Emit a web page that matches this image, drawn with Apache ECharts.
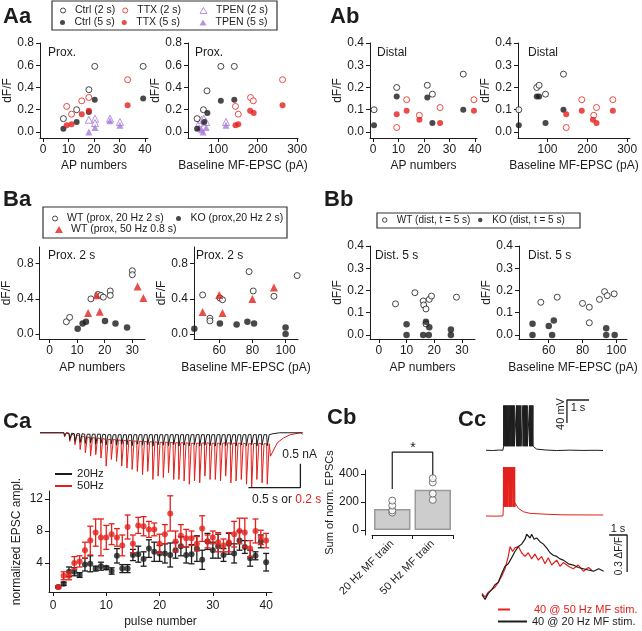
<!DOCTYPE html>
<html><head><meta charset="utf-8">
<script src="https://cdn.jsdelivr.net/npm/echarts@6/dist/echarts.min.js"></script>
<style>html,body{margin:0;padding:0;background:#fff}#c{width:642px;height:631px}</style>
</head><body><div id="c"></div>
<script>
// ---------------- DATA ----------------
// Aa (proximal) : [AP numbers, dF/F]
const aaL_ctrl2=[[8,0.12],[13.2,0.20],[18,0.38],[20.3,0.59],[39.3,0.59]];
const aaL_ctrl5=[[8,0.03],[13.2,0.09],[18,0.18],[20.3,0.29],[39.3,0.30]];
const aaL_ttx2=[[9.3,0.23],[11.2,0.16],[15.2,0.28],[18,0.31],[33.2,0.47]];
const aaL_ttx5=[[9.3,0.06],[11.2,0.07],[15.2,0.16],[18,0.19],[33.2,0.24]];
const aaL_tpen2=[[18,0.11],[20.4,0.12],[20.4,0.08],[26.3,0.12],[30.2,0.09]];
const aaL_tpen5=[[18,0.0],[20.4,0.04],[26.3,0.10],[30.2,0.06]];
// Aa : [Baseline MF-EPSC (pA), dF/F]
const aaR_ctrl2=[[47,0.12],[63,0.20],[72,0.37],[107,0.59],[141,0.59]];
const aaR_ctrl5=[[47,0.03],[65,0.09],[73,0.17],[107,0.28],[141,0.29]];
const aaR_ttx2=[[144,0.23],[151,0.16],[182,0.31],[189,0.28],[263,0.47]];
const aaR_ttx5=[[144,0.06],[151,0.07],[181,0.19],[190,0.17],[263,0.24]];
const aaR_tpen2=[[52,0.08],[58,0.11],[64,0.12],[70,0.09],[120,0.09]];
const aaR_tpen5=[[52,0.04],[58,0.02],[62,0.0],[70,0.04],[120,0.06]];
// Ab (distal)
const abL_ctrl2=[[0.4,0.10],[9.3,0.20],[21.3,0.21],[23.3,0.17],[35.4,0.26]];
const abL_ctrl5=[[0.4,0.03],[9.3,0.16],[21.3,0.155],[23.3,0.04],[35.4,0.10]];
const abL_ttx2=[[9.3,0.02],[13.2,0.145],[18.2,0.075],[26.3,0.11],[39.6,0.145]];
const abL_ttx5=[[9.3,0.08],[13.2,0.095],[18.2,0.055],[26.3,0.04],[39.6,0.095]];
const abR_ctrl2=[[28,0.10],[73,0.20],[79,0.21],[95,0.17],[140,0.26]];
const abR_ctrl5=[[28,0.03],[73,0.16],[79,0.16],[95,0.04],[140,0.10]];
const abR_ttx2=[[147,0.02],[186,0.145],[216,0.075],[223,0.11],[264,0.145]];
const abR_ttx5=[[147,0.08],[186,0.095],[214,0.055],[223,0.04],[264,0.095]];
// Ba (prox. 2 s)
const baL_wt20=[[6.1,0.14],[7.3,0.19],[15,0.40],[17.5,0.45],[18.6,0.44],[19.5,0.42],[22,0.49],[22,0.44],[30,0.72],[30,0.675]];
const baL_ko=[[10.2,0.06],[12,0.12],[13.2,0.14],[20.1,0.15],[23.9,0.12],[28.1,0.075]];
const baL_wt50=[[14,0.24],[17.1,0.44],[18.2,0.255],[31.9,0.54],[34,0.41]];
const baR_wt20=[[50,0.445],[54.4,0.18],[54.4,0.15],[60.4,0.41],[62,0.39],[78,0.71],[80.5,0.49],[93,0.43],[107,0.665]];
const baR_ko=[[45,0.06],[60.4,0.12],[70.5,0.11],[77,0.14],[81,0.12],[100,0.075],[100,0.0]];
const baR_wt50=[[50,0.25],[60,0.445],[62,0.24],[80,0.40],[93,0.53]];
// Bb (dist. 5 s)
const bbL_wt=[[6,0.14],[13,0.19],[16,0.153],[16.2,0.135],[17,0.117],[17,0.05],[18.2,0.16],[19,0.175],[28,0.17]];
const bbL_ko=[[10,0.048],[10,0],[16,0],[17,0.06],[18.2,0.035],[18,0],[26,0.025],[26,0]];
const bbR_wt=[[55.3,0.147],[65,0.17],[80,0.142],[84,0.125],[84,0.055],[90,0.16],[93,0.195],[94.6,0.177],[98.7,0.185]];
const bbR_ko=[[50.4,0.05],[50.4,0],[60,0.04],[62,0],[63,0.065],[94,0.03],[94,0],[99,0]];
// Ca normalized EPSC amplitude (pulse 1..40)
const caRed=[1.0,2.4,2.4,4.0,4.2,5.6,6.8,7.8,7.2,7.2,7.6,7.2,6.2,8.5,6.4,8.7,8.6,8.2,8.2,6.4,7.6,10.2,6.7,7.4,7.1,7.1,6.4,8.3,6.7,7.2,6.6,6.2,6.6,7.6,8.0,7.8,5.8,8.0,7.2,6.8];
const caRedSem=[0.15,0.5,0.5,0.8,0.7,1.0,1.8,1.7,2.3,1.5,1.3,1.1,1.3,1.5,1.1,1.0,1.2,1.0,0.8,1.2,1.2,2.2,1.3,1.4,1.1,0.9,0.9,1.6,0.8,0.8,1.2,0.8,1.2,1.6,1.6,1.8,1.0,1.5,0.9,0.9];
const caBlack=[1.0,1.4,2.9,2.9,2.5,3.8,3.9,3.3,3.6,3.4,3.0,4.9,3.3,3.3,5.0,5.1,4.5,5.8,5.4,5.2,5.2,5.0,5.6,6.1,5.0,5.1,5.8,4.4,6.7,5.6,6.1,5.0,6.4,5.2,6.8,6.0,4.6,4.9,6.7,4.1];
const caBlackSem=[0.1,0.2,0.6,0.5,0.3,0.8,1.0,0.3,0.5,0.2,0.4,0.9,0.5,0.5,0.7,1.0,0.9,1.1,1.2,1.0,1.2,1.5,1.0,1.2,1.0,1.2,1.6,1.2,1.0,1.0,1.5,0.8,1.3,1.2,1.2,0.8,1.0,0.5,0.8,1.1];
// Ca EPSC traces (nA): peak and inter-pulse level for each of 40 pulses
const trainStart=100, pulseStep=20; // ms (aligned time base)
const redPeak=[-0.09,-0.18,-0.25,-0.35,-0.42,-0.49,-0.46,-0.53,-0.70,-0.56,-0.60,-0.70,-0.74,-0.77,-0.81,-0.88,-0.81,-0.98,-0.91,-0.94,-0.84,-0.98,-0.98,-1.01,-1.08,-1.01,-1.05,-0.91,-0.98,-0.98,-1.01,-0.91,-1.05,-1.01,-0.98,-1.08,-1.15,-0.98,-1.05,-1.08];
const redInter=[0,-0.03,-0.05,-0.07,-0.09,-0.10,-0.11,-0.12,-0.14,-0.14,-0.15,-0.16,-0.16,-0.17,-0.18,-0.18,-0.19,-0.19,-0.20,-0.20,-0.20,-0.21,-0.21,-0.21,-0.22,-0.22,-0.22,-0.21,-0.22,-0.22,-0.22,-0.21,-0.22,-0.22,-0.22,-0.23,-0.23,-0.22,-0.23,-0.23];
const blackPeak=[-0.06,-0.14,-0.18,-0.20,-0.22,-0.21,-0.24,-0.22,-0.25,-0.23,-0.26,-0.24,-0.25,-0.27,-0.24,-0.26,-0.25,-0.28,-0.25,-0.26,-0.27,-0.25,-0.28,-0.26,-0.27,-0.25,-0.28,-0.26,-0.27,-0.28,-0.26,-0.27,-0.25,-0.28,-0.26,-0.27,-0.25,-0.28,-0.26,-0.27];
const blackInter=[0,-0.01,-0.02,-0.02,-0.03,-0.03,-0.03,-0.03,-0.04,-0.04,-0.04,-0.04,-0.04,-0.04,-0.04,-0.04,-0.04,-0.04,-0.04,-0.04,-0.04,-0.04,-0.04,-0.04,-0.04,-0.04,-0.04,-0.04,-0.04,-0.04,-0.04,-0.04,-0.04,-0.04,-0.04,-0.04,-0.04,-0.04,-0.04,-0.04];
const redTail=[[895,-0.49],[921,-0.21],[945,-0.11],[971,-0.04],[1010,0],[1019,-0.03]];
const blackTail=[[895,-0.08],[905,-0.02],[930,0],[1019,0]];
// Cb
const cbCats=['20 Hz MF train','50 Hz MF train'];
const cbMeans=[150,288];
const cbPts20=[125,140,175,210];
const cbPts50=[215,260,340,370];
// Cc membrane potential (mV) vs time (s)
const blackSpikes=[0.80,0.84,0.88,0.92,0.96,1.00,1.04,1.08,1.12,1.16,1.20,1.24,1.28,1.38,1.42,1.46,1.50,1.54,1.58,1.67,1.71,1.75,1.79,1.83,1.87,1.97,2.01,2.05,2.09,2.13];
const blackSpikeTop=13, blackBurstTrough=-58;
const blackVmPre=[[0,-65],[0.3,-65.5],[0.6,-64.6],[0.77,-65]];
const blackVmPost=[[2.16,-60],[2.3,-63],[2.7,-64.5],[3.2,-65.5],[3.8,-64.8],[4.4,-65.3],[5.0,-65],[5.32,-65.4]];
const redSpikes=[0.79,0.82,0.85,0.88,0.91,0.94,0.97,1.03,1.06,1.09,1.12,1.15,1.21,1.24,1.27,1.30];
const redSpikeTop=20, redBurstTrough=-49;
const redVmPre=[[0,-65],[0.4,-65.3],[0.77,-65]];
const redVmPost=[[1.33,-43],[1.47,-51.7],[1.70,-57.6],[2.0,-60.4],[2.76,-62],[3.5,-63],[5.33,-63.3]];
// Cc ΔF/F vs time (s)
const redDF=[[0,0.03],[0.17,0.0],[0.35,0.04],[0.54,0.06],[0.72,0.08],[0.91,0.12],[1.09,0.17],[1.28,0.23],[1.46,0.33],[1.56,0.41],[1.70,0.37],[1.83,0.40],[2.02,0.41],[2.20,0.36],[2.39,0.33],[2.57,0.36],[2.76,0.31],[2.94,0.35],[3.13,0.30],[3.31,0.33],[3.50,0.27],[3.68,0.32],[3.87,0.26],[4.15,0.30],[4.33,0.25],[4.52,0.28],[4.80,0.25],[5.07,0.23],[5.35,0.26],[5.63,0.21],[5.91,0.24],[6.09,0.22]];
const blackDF=[[0,0.02],[0.17,-0.02],[0.35,0.03],[0.54,0.06],[0.72,0.10],[0.91,0.12],[1.09,0.19],[1.28,0.25],[1.46,0.27],[1.65,0.32],[1.83,0.37],[2.02,0.41],[2.20,0.43],[2.39,0.47],[2.48,0.51],[2.57,0.52],[2.67,0.48],[2.76,0.51],[2.89,0.47],[3.04,0.48],[3.22,0.45],[3.41,0.43],[3.59,0.40],[3.78,0.36],[3.96,0.34],[4.15,0.33],[4.33,0.31],[4.52,0.30],[4.80,0.27],[5.07,0.26],[5.35,0.24],[5.63,0.23],[5.91,0.22],[6.20,0.21],[6.48,0.23],[6.76,0.21]];
// tick labels
const ticksAP=[0,10,20,30,40], ticksEPSC=[100,200,300], ticksA_prox=[0,0.2,0.4,0.6,0.8], ticksA_dist=[0,0.1,0.2,0.3,0.4];
const ticksB_AP=[0,10,20,30], ticksB_EPSC=[60,80,100], ticksB_prox=[0,0.4,0.8], ticksB_dist=[0,0.1,0.2,0.3,0.4];
const ticksCaX=[0,10,20,30,40], ticksCaY=[4,8,12], ticksCbY=[0,200,400];

// ---------------- STYLE / BUILD ----------------
const FONT='"Liberation Sans", Arial, Helvetica, sans-serif';
const INK='#1c1c1c', RED='#e3201b', PURPLE='#a67bd6', GREY='#555';
const fix1=v=>Number(v).toFixed(1);
const grids=[], xA=[], yA=[], series=[], legends=[], els=[];
function grid(l,t,w,h){grids.push({left:l,top:t,width:w,height:h,containLabel:false});return grids.length-1;}
function axis(gi,min,max,ticks,fmt,name,gap,extra){
  return Object.assign({type:'value',gridIndex:gi,min:min,max:max,
    axisLine:{show:true,onZero:false,lineStyle:{color:INK,width:1}},
    axisTick:{show:true,length:4,customValues:ticks,lineStyle:{color:INK,width:1}},
    axisLabel:{show:true,customValues:ticks,formatter:fmt||(v=>String(v)),fontSize:12,color:INK,fontFamily:FONT,margin:6},
    splitLine:{show:false},name:name||'',nameLocation:'middle',nameGap:gap||20,
    nameTextStyle:{fontSize:12,color:INK,fontFamily:FONT}},extra||{});
}
function hid(gi,min,max){return {type:'value',gridIndex:gi,min:min,max:max,show:false,splitLine:{show:false}};}
function sc(name,gi,data,symbol,size,color,open,z){
  series.push({type:'scatter',name:name,xAxisIndex:gi,yAxisIndex:gi,data:data,symbol:symbol,symbolSize:size,symbolKeepAspect:true,silent:true,z:z||2,
    itemStyle:open?{color:'#fff',borderColor:color,borderWidth:1}:{color:color,borderWidth:0}});
}
function ln(name,gi,data,color,w,z){
  series.push({type:'line',name:name,xAxisIndex:gi,yAxisIndex:gi,data:data,showSymbol:false,symbol:'none',silent:true,z:z||2,
    color:color,lineStyle:{color:color,width:w||1},animation:false});
}
function txt(t,x,y,o){els.push({type:'text',x:x,y:y,rotation:(o&&o.rot)||0,silent:true,
  style:Object.assign({text:t,font:(o&&o.font)||('12px '+FONT),fill:(o&&o.fill)||INK,align:(o&&o.align)||'left',verticalAlign:(o&&o.va)||'middle'},(o&&o.style)||{})});}
function box(x,y,w,h){els.push({type:'rect',shape:{x:x,y:y,width:w,height:h},silent:true,style:{fill:'none',stroke:'#333',lineWidth:1.2}});}
function leg(names,left,top,o){legends.push(Object.assign({data:names,left:left,top:top,orient:'horizontal',itemWidth:14,itemHeight:5,itemGap:7,padding:0,selectedMode:false,
  symbolKeepAspect:true,itemStyle:{borderWidth:1},textStyle:{fontSize:10.5,color:INK,fontFamily:FONT}},o||{}));}

// ---- A panels
const g0=grid(40,43,108,95), g1=grid(188,43,110,95), g2=grid(370,43,107,95), g3=grid(518,43,112,95);
xA.push(axis(g0,-1.18,41.2,ticksAP,null,'AP numbers',22));
yA.push(axis(g0,-0.054,0.8,ticksA_prox,fix1,'dF/F',26));
xA.push(axis(g1,24,302,ticksEPSC,null,'Baseline MF-EPSC (pA)',22));
yA.push(axis(g1,-0.054,0.8,ticksA_prox,fix1,'dF/F',26));
xA.push(axis(g2,-1.18,40.8,ticksAP,null,'AP numbers',22));
yA.push(axis(g2,-0.027,0.4,ticksA_dist,fix1,'dF/F',26));
xA.push(axis(g3,26,307,ticksEPSC,null,'Baseline MF-EPSC (pA)',22));
yA.push(axis(g3,-0.027,0.4,ticksA_dist,fix1,'dF/F',26));
[[g0,aaL_ctrl2,aaL_ctrl5,aaL_ttx2,aaL_ttx5,aaL_tpen2,aaL_tpen5],[g1,aaR_ctrl2,aaR_ctrl5,aaR_ttx2,aaR_ttx5,aaR_tpen2,aaR_tpen5],
 [g2,abL_ctrl2,abL_ctrl5,abL_ttx2,abL_ttx5,null,null],[g3,abR_ctrl2,abR_ctrl5,abR_ttx2,abR_ttx5,null,null]].forEach(p=>{
  const g=p[0];
  if(p[5]){sc('TPEN (2 s)',g,p[5],'triangle',7,PURPLE,true);sc('TPEN (5 s)',g,p[6],'triangle',7,PURPLE,false);}
  sc('Ctrl (2 s)',g,p[1],'circle',6,INK,true);sc('Ctrl (5 s)',g,p[2],'circle',6,INK,false);
  sc('TTX (2 s)',g,p[3],'circle',6,RED,true);sc('TTX (5 s)',g,p[4],'circle',6,RED,false);
});
// ---- B panels
const g4=grid(38,247,107,92), g5=grid(194,247,104,92), g6=grid(370,246,105,93), g7=grid(519,246,108,93);
xA.push(axis(g4,-3.6,34.6,ticksB_AP,null,'AP numbers',23));
yA.push(axis(g4,-0.056,0.99,ticksB_prox,fix1,'dF/F',26));
xA.push(axis(g5,44.8,107.5,ticksB_EPSC,null,'Baseline MF-EPSC (pA)',23));
yA.push(axis(g5,-0.056,0.99,ticksB_prox,fix1,'dF/F',26));
xA.push(axis(g6,-3.2,34.7,ticksB_AP,null,'AP numbers',23));
yA.push(axis(g6,-0.018,0.4,ticksB_dist,fix1,'dF/F',26));
xA.push(axis(g7,42.4,106.3,ticksB_EPSC,null,'Baseline MF-EPSC (pA)',23));
yA.push(axis(g7,-0.018,0.4,ticksB_dist,fix1,'dF/F',26));
sc('WT (prox, 20 Hz 2 s)',g4,baL_wt20,'circle',6,INK,true);sc('KO (prox,20 Hz 2 s)',g4,baL_ko,'circle',6.5,INK,false);sc('WT (prox, 50 Hz 0.8 s)',g4,baL_wt50,'triangle',8,RED,false);
sc('WT (prox, 20 Hz 2 s)',g5,baR_wt20,'circle',6,INK,true);sc('KO (prox,20 Hz 2 s)',g5,baR_ko,'circle',6.5,INK,false);sc('WT (prox, 50 Hz 0.8 s)',g5,baR_wt50,'triangle',8,RED,false);
sc('WT (dist, t = 5 s)',g6,bbL_wt,'circle',6,INK,true);sc('KO (dist, t = 5 s)',g6,bbL_ko,'circle',6.5,INK,false);
sc('WT (dist, t = 5 s)',g7,bbR_wt,'circle',6,INK,true);sc('KO (dist, t = 5 s)',g7,bbR_ko,'circle',6.5,INK,false);

// ---- Ca trace
const g8=grid(40,428,263,62);
xA.push(hid(g8,8,1020)); yA.push(hid(g8,-1.2,0.1));
function eTrace(inter,peak,tail){const d=[[8,0],[trainStart,0]];inter.forEach((v,k)=>{const t=trainStart+k*pulseStep;d.push([t,v],[t+2.5,peak[k]],[t+10,v]);});return d.concat(tail);}
ln('50Hz',g8,eTrace(redInter,redPeak,redTail),RED,1,2);
ln('20Hz',g8,eTrace(blackInter,blackPeak,blackTail),INK,1,3);
ln('scaleCa',g8,[[1010,-0.65],[1010,-1.15],[810,-1.15]],INK,1.3,3);
// ---- Ca plot
const g9=grid(49,491,223,101);
xA.push(axis(g9,-0.75,41.1,ticksCaX,null,'pulse number',24,{axisLabel:{customValues:ticksCaX,fontSize:12,color:INK,fontFamily:FONT,margin:8}}));
yA.push(axis(g9,0.375,13,ticksCaY,null,'normalized EPSC ampl.',26));
const pulses=caRed.map((_,i)=>i+1);
function errbars(name,gi,mean,sem,color,z){
  series.push({type:'custom',name:name,xAxisIndex:gi,yAxisIndex:gi,silent:true,z:z,
    data:mean.map((m,i)=>[pulses[i],m-sem[i],m+sem[i]]),
    renderItem:function(params,api){const x=api.value(0);const a=api.coord([x,api.value(1)]),b=api.coord([x,api.value(2)]);const w=3;const st={stroke:color,lineWidth:1.3};
      return {type:'group',children:[{type:'line',shape:{x1:a[0],y1:a[1],x2:b[0],y2:b[1]},style:st},{type:'line',shape:{x1:a[0]-w,y1:a[1],x2:a[0]+w,y2:a[1]},style:st},{type:'line',shape:{x1:b[0]-w,y1:b[1],x2:b[0]+w,y2:b[1]},style:st}]};}});
}
errbars('semB',g9,caBlack,caBlackSem,INK,2);
sc('meanB',g9,caBlack.map((v,i)=>[pulses[i],v]),'circle',6,INK,false,3);
errbars('semR',g9,caRed,caRedSem,RED,4);
sc('meanR',g9,caRed.map((v,i)=>[pulses[i],v]),'circle',6,RED,false,5);

// ---- Cb
const g10=grid(372,470,81,65);
xA.push({type:'category',gridIndex:g10,data:cbCats,axisLine:{show:true,onZero:false,lineStyle:{color:INK}},axisTick:{show:true,length:4,alignWithLabel:false,lineStyle:{color:INK}},
  axisLabel:{rotate:45,interval:0,fontSize:11,color:INK,fontFamily:FONT,margin:7},splitLine:{show:false}});
yA.push(axis(g10,-35.7,428.6,ticksCbY,null,'Sum of norm. EPSCs',22,{offset:7,nameTextStyle:{fontSize:11,color:INK,fontFamily:FONT}}));
series.push({type:'bar',name:'cbBars',xAxisIndex:g10,yAxisIndex:g10,data:cbMeans,barWidth:'90%',silent:true,itemStyle:{color:'#cdcdcd',borderColor:'#9a9a9a',borderWidth:1.5}});
sc('cb20',g10,cbPts20.map(v=>[0,v]),'circle',7,GREY,true,4);
sc('cb50',g10,cbPts50.map(v=>[1,v]),'circle',7,GREY,true,4);
const g11=grid(372,440,81,95);
xA.push({type:'category',gridIndex:g11,data:cbCats,show:false});yA.push(hid(g11,-35.7,642.9));
ln('bracket',g11,[[0,293],[0,557],[1,557],[1,371]],INK,1.2,3);

// ---- Cc
const g12=grid(486,398,140,58), g13=grid(486,462,140,58), g14=grid(482,528,148,72);
xA.push(hid(g12,0,6.364)); yA.push(hid(g12,-75,26));
xA.push(hid(g13,0,6.364)); yA.push(hid(g13,-72,29));
xA.push(hid(g14,0,8.22)); yA.push(hid(g14,-0.024,0.561));
function vmTrace(pre,spikes,trough,peak,post){const d=pre.slice();spikes.forEach(s=>{d.push([s,trough],[s+0.004,peak],[s+0.014,trough]);});return d.concat(post);}
ln('vmBlack',g12,vmTrace(blackVmPre,blackSpikes,blackBurstTrough,blackSpikeTop,blackVmPost),INK,1);
ln('scaleVm',g12,[[4.68,22.5],[3.68,22.5],[3.68,-17.5]],INK,1.3);
ln('vmRed',g13,vmTrace(redVmPre,redSpikes,redBurstTrough,redSpikeTop,redVmPost),RED,1);
ln('40 @ 50 Hz MF stim.',g14,redDF,RED,1.2,2);
ln('40 @ 20 Hz MF stim.',g14,blackDF,INK,1.2,3);
ln('scaleDF',g14,[[7.06,0.504],[8.06,0.504],[8.06,0.204]],INK,1.3);

// ---- legends
leg(['Ctrl (2 s)','TTX (2 s)'],60,5);
leg(['TPEN (2 s)'],199.5,5,{itemWidth:7,itemHeight:6,textStyle:{fontSize:10.5,color:INK,fontFamily:FONT,padding:[0,0,0,4]}});
leg(['Ctrl (5 s)','TTX (5 s)'],60,17);
leg(['TPEN (5 s)'],199.5,17,{itemWidth:7,itemHeight:6,textStyle:{fontSize:10.5,color:INK,fontFamily:FONT,padding:[0,0,0,4]}});
box(52,1,225,29);
leg(['WT (prox, 20 Hz 2 s)'],52,213);
leg(['KO (prox,20 Hz 2 s)'],176,213);
leg(['WT (prox, 50 Hz 0.8 s)'],55,224,{itemWidth:8,itemHeight:7,textStyle:{fontSize:10.5,color:INK,fontFamily:FONT,padding:[0,0,0,3]}});
box(43,207,244,31);
leg(['WT (dist, t = 5 s)'],382,215,{itemHeight:4.5,textStyle:{fontSize:10,color:INK,fontFamily:FONT}});
leg(['KO (dist, t = 5 s)'],478,215,{itemHeight:4.5,textStyle:{fontSize:10,color:INK,fontFamily:FONT}});
box(377,213,203,15);
leg(['20Hz','50Hz'],55,468,{orient:'vertical',itemWidth:17,itemHeight:2,itemGap:0,icon:'rect',textStyle:{fontSize:11.5,color:INK,fontFamily:FONT}});
leg(['40 @ 50 Hz MF stim.'],498,604,{itemWidth:12,itemHeight:2,icon:'rect',textStyle:{fontSize:11,color:RED,fontFamily:FONT,padding:[0,0,0,19]}});
leg(['40 @ 20 Hz MF stim.'],498,616,{itemWidth:29,itemHeight:2,icon:'rect',textStyle:{fontSize:11,color:INK,fontFamily:FONT}});

// ---- texts
const PL='bold 22px '+FONT;
txt('Aa',3,6,{font:PL,va:'top'}); txt('Ab',330,6,{font:PL,va:'top'});
txt('Ba',3,189,{font:PL,va:'top'}); txt('Bb',324,189,{font:PL,va:'top'});
txt('Ca',3,411,{font:PL,va:'top'}); txt('Cb',327,407,{font:PL,va:'top'}); txt('Cc',458,409,{font:PL,va:'top'});
txt('Prox.',48,53); txt('Prox.',195,53); txt('Distal',377,53); txt('Distal',528,53);
txt('Prox. 2 s',48,256); txt('Prox. 2 s',196,256); txt('Dist. 5 s',375,256); txt('Dist. 5 s',528,256);
txt('0.5 nA',317,455,{align:'right'});
txt('',252,500,{style:{text:'{a|0.5 s or }{b|0.2 s}',rich:{a:{fill:INK,font:'12px '+FONT},b:{fill:RED,font:'12px '+FONT}}}});
txt('*',413,448,{align:'center',font:'14px '+FONT});
txt('40 mV',561,414,{align:'center',rot:Math.PI/2,font:'11px '+FONT});
txt('1 s',578,408,{align:'center',font:'11px '+FONT});
txt('1 s',618,529,{align:'center',font:'11px '+FONT});
txt('0.3 ΔF/F',619,556,{align:'center',rot:Math.PI/2,font:'10px '+FONT});

const chart=echarts.init(document.getElementById('c'),null,{renderer:'canvas'});
chart.setOption({animation:false,backgroundColor:'#fff',textStyle:{fontFamily:FONT},
  grid:grids,xAxis:xA,yAxis:yA,series:series,legend:legends,graphic:{elements:els}});
</script></body></html>
